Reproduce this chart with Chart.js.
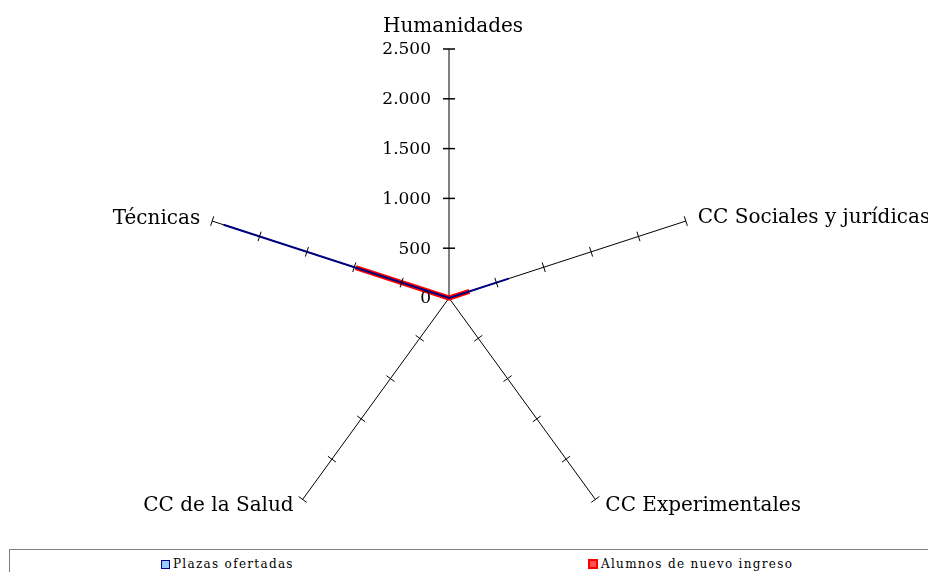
<!DOCTYPE html>
<html lang="es">
<head>
<meta charset="UTF-8">
<title>Plazas ofertadas y alumnos de nuevo ingreso</title>
<style>
  body { margin: 0; background: #fff; font-family: "DejaVu Serif", serif; overflow: hidden; }
  .chart-box { position: relative; width: 928px; height: 548px; }
  .legend { position: absolute; left: 9px; top: 549px; width: 940px; height: 40px; border: 1px solid #808080; box-sizing: border-box; }
  .legend span { position: absolute; top: 7px; font-size: 12px; letter-spacing: 1.3px; line-height: 14px; color: #000; white-space: nowrap; }
  .legend i { display: inline-block; width: 7px; height: 7px; margin-right: 3px; vertical-align: -1px; }
</style>
<script src="https://cdn.jsdelivr.net/npm/chart.js"></script>
</head>
<body>
<div class="chart-box"><canvas id="radar"></canvas></div>
<div class="legend">
  <span style="left:151px"><i style="background:#99ccff;border:1px solid #000080"></i>Plazas ofertadas</span>
  <span style="left:578px"><i style="background:#ff5050;border:2px solid #ff0000;width:6px;height:6px"></i>Alumnos de nuevo ingreso</span>
</div>
<script>
const categories = ['Humanidades', 'CC Sociales y jurídicas', 'CC Experimentales', 'CC de la Salud', 'Técnicas'];
const plazasOfertadas = [0, 630, 0, 0, 2380];
const alumnosNuevoIngreso = [0, 215, 0, 0, 985];
const tickValues = [0, 500, 1000, 1500, 2000, 2500];

const FONT = '"DejaVu Serif", serif';

// label offsets from the end of each axis: dx, dy, align
const labelPlace = [[4, -22, 'center'], [12, -3, 'left'], [10, 6, 'left'], [-9, 6, 'right'], [-12, -2, 'right']];

const fmt = v => v >= 1000 ? Math.floor(v / 1000) + '.' + String(v % 1000).padStart(3, '0') : String(v);

const axisDecor = {
  id: 'axisDecor',
  beforeDatasetsDraw(chart) {
    // Humanidades axis is drawn in grey
    const s = chart.scales.r;
    const ctx = chart.ctx;
    const top = s.getPointPosition(0, s.drawingArea);
    ctx.save();
    ctx.strokeStyle = '#808080';
    ctx.lineWidth = 2;
    ctx.beginPath();
    ctx.moveTo(s.xCenter, s.yCenter);
    ctx.lineTo(top.x, top.y);
    ctx.stroke();
    ctx.restore();
  },
  afterDatasetsDraw(chart) {
    const s = chart.scales.r;
    const ctx = chart.ctx;
    ctx.save();
    ctx.strokeStyle = '#000';
    tickValues.forEach(v => {
      if (v === 0) return;
      const dist = s.getDistanceFromCenterForValue(v);
      for (let i = 0; i < categories.length; i++) {
        const p = s.getPointPosition(i, dist);
        const a = s.getIndexAngle(i) - Math.PI / 2;
        const px = -Math.sin(a), py = Math.cos(a);
        const h = i === 0 ? 6 : 5;
        ctx.lineWidth = i === 0 ? 1.5 : 1;
        ctx.beginPath();
        ctx.moveTo(p.x - px * h, p.y - py * h);
        ctx.lineTo(p.x + px * h, p.y + py * h);
        ctx.stroke();
      }
    });
    // tick labels
    ctx.fillStyle = '#000';
    ctx.font = '17px ' + FONT;
    ctx.textAlign = 'right';
    ctx.textBaseline = 'middle';
    tickValues.forEach(v => {
      const p = s.getPointPosition(0, s.getDistanceFromCenterForValue(v));
      ctx.fillText(fmt(v), s.xCenter - 18, p.y + 1);
    });
    // category labels
    ctx.font = '20px ' + FONT;
    categories.forEach((c, i) => {
      const p = s.getPointPosition(i, s.drawingArea);
      const [dx, dy, al] = labelPlace[i];
      ctx.textAlign = al;
      ctx.fillText(c, p.x + dx, p.y + dy);
    });
    ctx.restore();
  }
};

new Chart(document.getElementById('radar'), {
  type: 'radar',
  data: {
    labels: categories,
    datasets: [
      { label: 'Plazas ofertadas', data: plazasOfertadas, borderColor: '#000080', backgroundColor: '#99ccff', borderWidth: 2, fill: false, pointRadius: 0, tension: 0 },
      { label: 'Alumnos de nuevo ingreso', data: alumnosNuevoIngreso, borderColor: '#ff0000', backgroundColor: '#ff0000', borderWidth: 5, fill: false, pointRadius: 0, tension: 0 }
    ]
  },
  options: {
    responsive: true,
    maintainAspectRatio: false,
    animation: false,
    layout: { padding: { top: 49, left: 0, right: 30, bottom: 1 } },
    plugins: { legend: { display: false }, tooltip: { enabled: false } },
    scales: {
      r: {
        min: 0,
        max: 2500,
        ticks: { display: false, stepSize: 500 },
        grid: { display: false },
        pointLabels: { display: false },
        angleLines: {
          display: true,
          color: ctx => ctx.index === 0 ? '#808080' : '#000',
          lineWidth: ctx => ctx.index === 0 ? 2 : 1
        }
      }
    }
  },
  plugins: [axisDecor]
});
</script>
</body>
</html>
